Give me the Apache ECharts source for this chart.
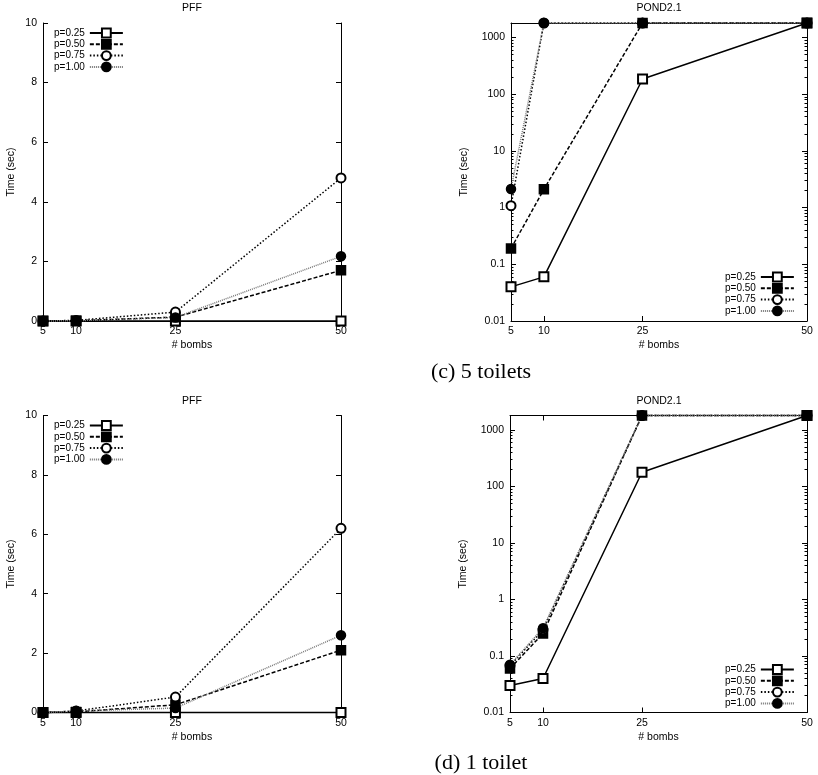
<!DOCTYPE html>
<html><head><meta charset="utf-8">
<script src="https://cdn.jsdelivr.net/npm/echarts@6/dist/echarts.min.js"></script>
<style>html,body{margin:0;padding:0;background:#fff}#c{width:818px;height:775px}</style>
</head><body><div id="c"></div><script>
// ---- data ----
const seriesNames = ['p=0.25', 'p=0.50', 'p=0.75', 'p=1.00'];
const bombs = [5, 10, 25, 50];
const xTickValues = [5, 10, 25, 50];
const logTickValues = [0.01, 0.1, 1, 10, 100, 1000];

// (c) 5 toilets
const c_pff_p025 = [0, 0, 0, 0];
const c_pff_p050 = [0, 0.01, 0.13, 1.7];
const c_pff_p075 = [0, 0.02, 0.3, 4.8];
const c_pff_p100 = [0, 0.01, 0.12, 2.17];
const c_pond_p025 = [0.04, 0.06, 185, 1800];
const c_pond_p050 = [0.19, 2.1, 1800, 1800];
const c_pond_p075 = [1.08, 1800, 1800, 1800];
const c_pond_p100 = [2.13, 1800, 1800, 1800];
// (d) 1 toilet
const d_pff_p025 = [0, 0, 0, 0];
const d_pff_p050 = [0, 0.02, 0.26, 2.1];
const d_pff_p075 = [0, 0.05, 0.52, 6.2];
const d_pff_p100 = [0, 0.05, 0.15, 2.6];
const d_pond_p025 = [0.03, 0.04, 178, 1800];
const d_pond_p050 = [0.06, 0.25, 1800, 1800];
const d_pond_p075 = [0.067, 0.29, 1800, 1800];
const d_pond_p100 = [0.07, 0.31, 1800, 1800];

const panelTitles = ['PFF', 'POND2.1', 'PFF', 'POND2.1'];
const captions = ['(c) 5 toilets', '(d) 1 toilet'];

// ---- layout / style ----
const FONT = 'Liberation Sans, Arial, sans-serif';
const grids = [
  {left: 43, top: 23, width: 298, height: 298},
  {left: 511, top: 23, width: 296, height: 298},
  {left: 43, top: 415.5, width: 298, height: 297},
  {left: 510, top: 415.5, width: 297, height: 297}
];
const panels = [
  {log: false, data: [c_pff_p025, c_pff_p050, c_pff_p075, c_pff_p100], nameGap: 26, legend: {left: 54, top: 27.5}},
  {log: true, data: [c_pond_p025, c_pond_p050, c_pond_p075, c_pond_p100], nameGap: 41, legend: {left: 725, top: 271.5}},
  {log: false, data: [d_pff_p025, d_pff_p050, d_pff_p075, d_pff_p100], nameGap: 26, legend: {left: 54, top: 420}},
  {log: true, data: [d_pond_p025, d_pond_p050, d_pond_p075, d_pond_p100], nameGap: 41, legend: {left: 725, top: 664}}
];
const styles = [
  {symbol: 'emptyRect', line: {type: 'solid', color: '#000', width: 1.5}},
  {symbol: 'rect', line: {type: [4, 2], color: '#000', width: 1.5}},
  {symbol: 'emptyCircle', line: {type: [1.5, 2], color: '#000', width: 1.5}},
  {symbol: 'circle', line: {type: [1, 1], color: '#777', width: 1.5}}
];

const lbl = {color: '#000', fontSize: 10.5, fontFamily: FONT};
const axLine = {show: true, lineStyle: {color: '#000', width: 1}};

const minorLog = [];
for (let e = -2; e <= 3; e++) for (let m = 2; m <= 9; m++) {
  const v = m * Math.pow(10, e);
  if (v <= 1800) minorLog.push(+v.toPrecision(3));
}

const xAxis = [], yAxis = [], series = [], legend = [];
const allGrids = grids.slice();
panels.forEach((p, g) => {
  const xi = xAxis.length;
  xAxis.push({
    type: 'value', gridIndex: g, min: 5, max: 50, position: 'bottom',
    name: '# bombs', nameLocation: 'middle', nameGap: 19, nameTextStyle: lbl,
    axisLine: axLine, splitLine: {show: false},
    axisTick: {show: true, inside: true, length: 5, customValues: xTickValues, lineStyle: {color: '#000'}},
    axisLabel: Object.assign({customValues: xTickValues, margin: 5}, lbl)
  });
  xAxis.push({
    type: 'value', gridIndex: g, min: 5, max: 50, position: 'top',
    axisLine: axLine, splitLine: {show: false},
    axisTick: {show: true, inside: true, length: 5, customValues: xTickValues, lineStyle: {color: '#000'}},
    axisLabel: {show: false}
  });
  const yi = yAxis.length;
  if (!p.log) {
    ['left', 'right'].forEach((pos, k) => {
      yAxis.push({
        type: 'value', gridIndex: g, min: 0, max: 10, interval: 2, position: pos,
        name: k === 0 ? 'Time (sec)' : '', nameLocation: 'middle', nameGap: p.nameGap, nameTextStyle: lbl,
        axisLine: axLine, splitLine: {show: false},
        axisTick: {show: true, inside: true, length: 5, lineStyle: {color: '#000'}},
        axisLabel: Object.assign({show: k === 0, margin: 6}, lbl)
      });
    });
  } else {
    ['left', 'right'].forEach((pos, k) => {
      yAxis.push({
        type: 'log', logBase: 10, gridIndex: g, min: 0.01, max: 1800, position: pos,
        name: k === 0 ? 'Time (sec)' : '', nameLocation: 'middle', nameGap: p.nameGap, nameTextStyle: lbl,
        axisLine: axLine, splitLine: {show: false},
        axisTick: {show: true, inside: true, length: 5, customValues: logTickValues, lineStyle: {color: '#000'}},
        axisLabel: Object.assign({show: k === 0, margin: 6, customValues: logTickValues,
          formatter: v => String(+(+v).toPrecision(3))}, lbl)
      });
    });
    // overlay grid carrying the minor log ticks
    const mg = allGrids.length;
    allGrids.push(Object.assign({}, grids[g]));
    xAxis.push({type: 'value', gridIndex: mg, min: 5, max: 50, show: false});
    ['left', 'right'].forEach(pos => {
      yAxis.push({
        type: 'log', logBase: 10, gridIndex: mg, min: 0.01, max: 1800, position: pos,
        axisLine: {show: false}, splitLine: {show: false},
        axisTick: {show: true, inside: true, length: 2.5, customValues: minorLog, lineStyle: {color: '#000'}},
        axisLabel: {show: false}
      });
    });
  }
  seriesNames.forEach((nm, s) => {
    const st = styles[s];
    series.push({
      type: 'line', name: nm, xAxisIndex: xi, yAxisIndex: yi,
      data: bombs.map((b, i) => [b, p.data[s][i]]),
      symbol: st.symbol, symbolSize: 9, clip: false, animation: false,
      lineStyle: st.line,
      itemStyle: {color: '#000', borderColor: '#000', borderWidth: 1.5}
    });
  });
  legend.push({
    data: seriesNames, orient: 'vertical', align: 'right',
    left: p.legend.left, top: p.legend.top, padding: 0,
    itemWidth: 33, itemHeight: 11, itemGap: 0.3, selectedMode: false,
    textStyle: {color: '#000', fontSize: 10, fontFamily: FONT, lineHeight: 11}
  });
});

const titlePos = [[192, 8], [659, 8], [192, 401], [659, 401]];
const capPos = [[481, 372], [481, 763]];
const graphic = [];
panelTitles.forEach((t, i) => graphic.push({
  type: 'text', x: titlePos[i][0], y: titlePos[i][1],
  style: {text: t, font: '10.5px ' + FONT, fill: '#000', textAlign: 'center', textVerticalAlign: 'middle'}
}));
captions.forEach((t, i) => graphic.push({
  type: 'text', x: capPos[i][0], y: capPos[i][1],
  style: {text: t, font: '22px Liberation Serif, Times New Roman, serif', fill: '#000', textAlign: 'center', textVerticalAlign: 'middle'}
}));

const chart = echarts.init(document.getElementById('c'), null, {renderer: 'canvas'});
chart.setOption({
  backgroundColor: '#fff', animation: false,
  grid: allGrids, xAxis, yAxis, series, legend, graphic
});
</script></body></html>
